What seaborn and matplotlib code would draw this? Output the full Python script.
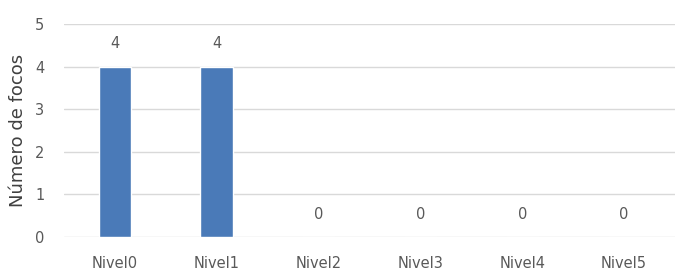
import pandas as pd
import seaborn as sns
import matplotlib.pyplot as plt

niveles = ["Nivel0", "Nivel1", "Nivel2", "Nivel3", "Nivel4", "Nivel5"]
focos = [4, 4, 0, 0, 0, 0]

df = pd.DataFrame({"nivel": niveles, "focos": focos})

sns.set_style("white")
plt.rcParams['font.family'] = ['DejaVu Sans']

fig = plt.figure(figsize=(6.77, 2.71), dpi=100)
ax = fig.add_axes([0.0945, 0.1255, 0.9025, 0.7855])

sns.barplot(x="nivel", y="focos", data=df, ax=ax, color="#4a7ab8", width=0.32, saturation=1)
ax.bar_label(ax.containers[0], padding=11, color="#595959", fontsize=10.5)

ax.set_ylim(0, 5)
ax.set_yticks(range(6))
ax.yaxis.grid(True, color="#d9d9d9", linewidth=1)
ax.set_axisbelow(True)
for s in ax.spines.values():
    s.set_visible(False)
ax.tick_params(axis="both", length=0, colors="#595959", labelsize=10.5)
ax.tick_params(axis="x", pad=14)
ax.tick_params(axis="y", pad=14)
ax.set_xlabel("")
ax.set_ylabel("Número de focos", fontsize=13, color="#404040", labelpad=6)

fig.savefig("out.png")
